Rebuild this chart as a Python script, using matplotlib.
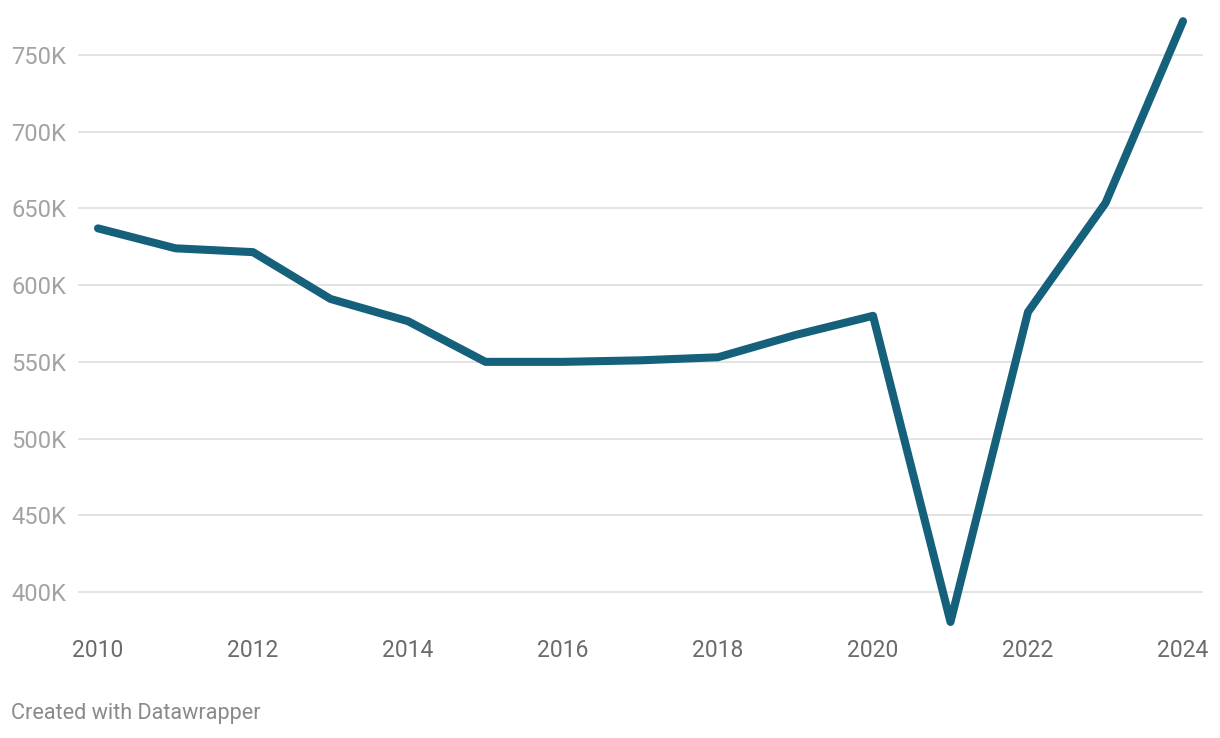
import matplotlib.pyplot as plt
from matplotlib.ticker import FuncFormatter

years = [2010, 2011, 2012, 2013, 2014, 2015, 2016, 2017, 2018, 2019, 2020, 2021, 2022, 2023, 2024]
values = [637, 624, 621.5, 591, 576.5, 550, 550, 551, 553, 567.5, 580, 380.5, 582.5, 653.5, 772]  # thousands
yticks = [400, 450, 500, 550, 600, 650, 700, 750]
xticks = [2010, 2012, 2014, 2016, 2018, 2020, 2022, 2024]

plt.rcParams['font.family'] = ['Roboto', 'DejaVu Sans']

W, H = 1220, 738
fig = plt.figure(figsize=(W / 100, H / 100), dpi=100)

# axes placed in pixel terms
left, right, top, bottom = 78, 1203, 16.6, 625.8
ax = fig.add_axes([left / W, 1 - bottom / H, (right - left) / W, (bottom - top) / H])

ax.plot(years, values, color='#15607a', linewidth=5.8, solid_capstyle='round',
        solid_joinstyle='round', clip_on=False, zorder=3)

ax.set_xlim(2010 - 20 / 77.5, 2024 + 20 / 77.5)
ax.set_ylim(378, 775)

ax.set_yticks(yticks)
ax.yaxis.set_major_formatter(FuncFormatter(lambda v, p: f'{int(v)}K'))
ax.set_xticks(xticks)

ax.grid(axis='y', color='#e4e4e4', linewidth=1.4)
ax.set_axisbelow(True)
for s in ax.spines.values():
    s.set_visible(False)

ax.tick_params(axis='y', length=0, pad=48.2, labelsize=17, labelcolor='#a3a3a3')
for lab in ax.get_yticklabels():
    lab.set_horizontalalignment('left')
ax.tick_params(axis='x', length=0, pad=9.5, labelsize=16.5, labelcolor='#6b6b6b')

fig.text(11 / W, 1 - 714 / H, 'Created with Datawrapper', fontsize=15.6, color='#8a8a8a',
         ha='left', va='center')

plt.savefig('out.png', dpi=100)
